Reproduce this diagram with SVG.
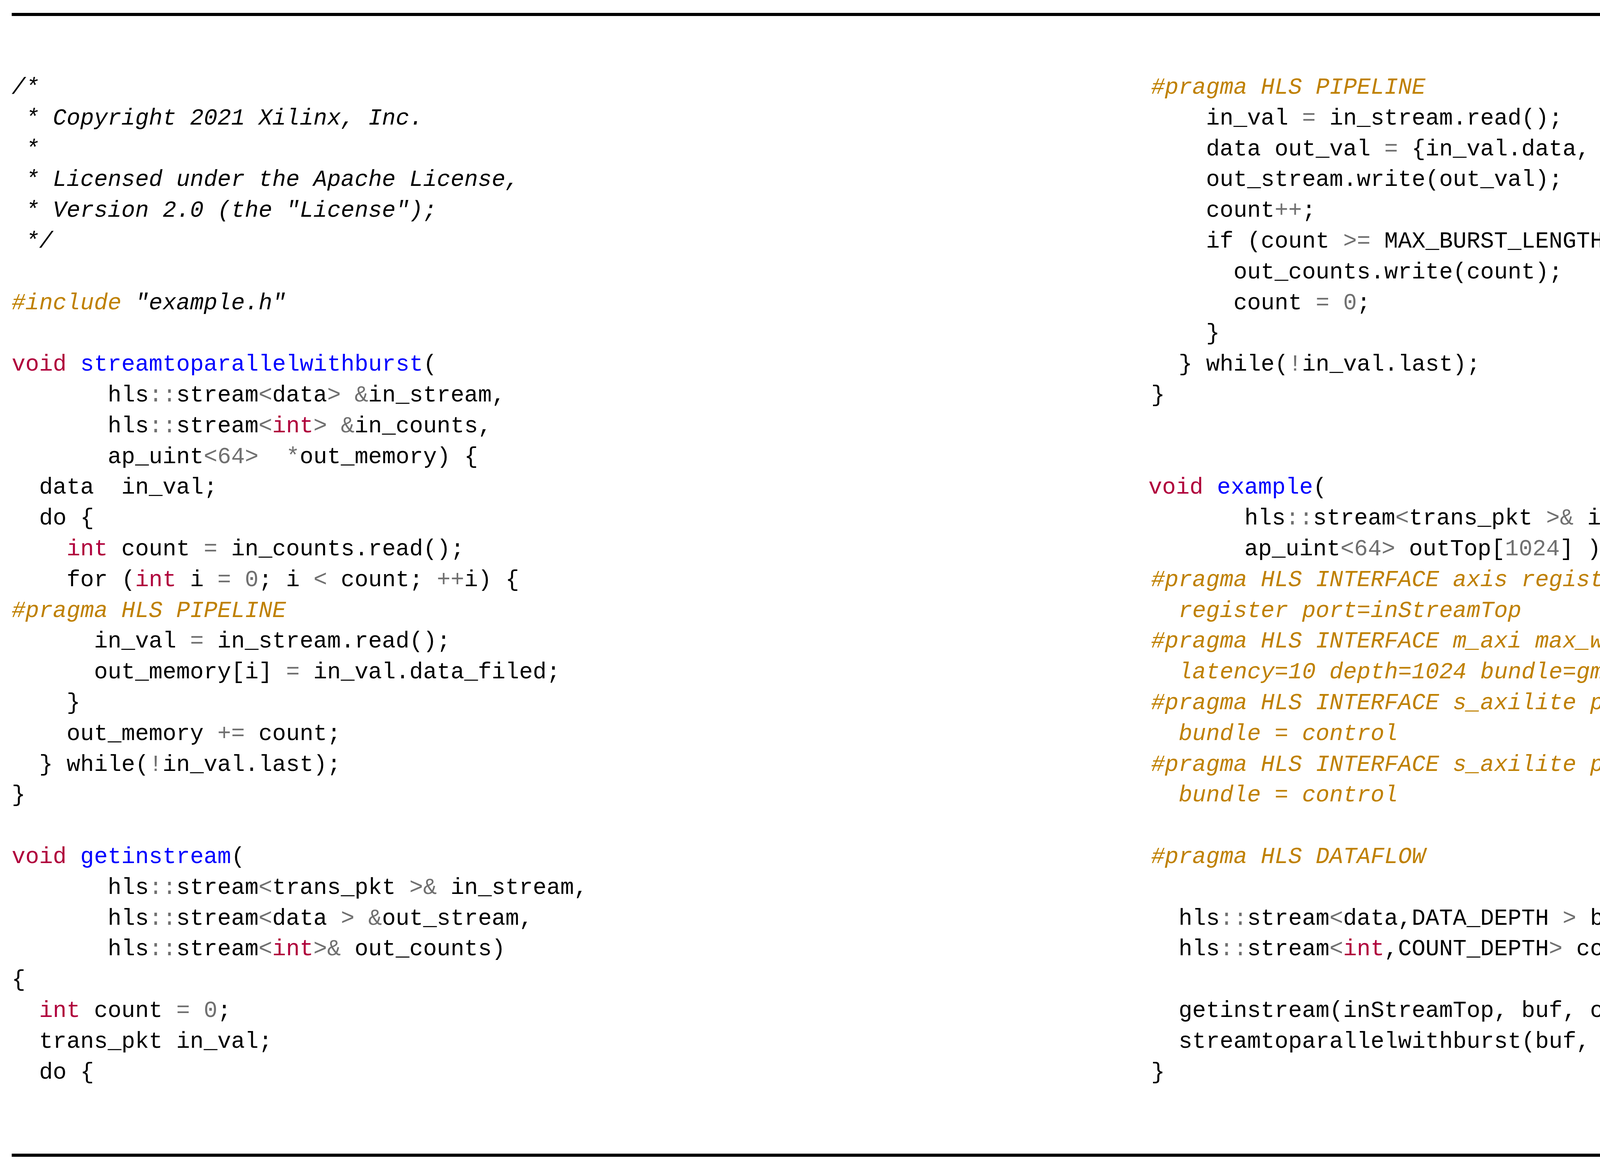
<svg xmlns="http://www.w3.org/2000/svg" width="5797" height="3001" viewBox="0 0 5797 3001">
<style>
text{font-family:"Liberation Mono","DejaVu Sans Mono",monospace;font-size:58.5px;fill:#000;white-space:pre}
.k{fill:#b0003c}.f{fill:#0000ff}.o{fill:#707070}.p{fill:#bf8000;font-style:italic}.c{font-style:italic}
</style>
<rect x="0" y="0" width="5797" height="3001" fill="#fff"/>
<g id="rules">
<rect x="30" y="33" width="5738" height="8" fill="#000"/>
<rect x="30" y="2954" width="5738" height="8" fill="#000"/>
</g>
<g id="left-code" xml:space="preserve">
<text x="30" y="240" class="c">/*</text>
<text x="30" y="319" class="c"> * Copyright 2021 Xilinx, Inc.</text>
<text x="30" y="398" class="c"> *</text>
<text x="30" y="476" class="c"> * Licensed under the Apache License,</text>
<text x="30" y="555" class="c"> * Version 2.0 (the "License");</text>
<text x="30" y="634" class="c"> */</text>
<text x="30" y="792"><tspan class="p">#include</tspan> <tspan class="c">"example.h"</tspan></text>
<text x="30" y="949"><tspan class="k">void</tspan> <tspan class="f">streamtoparallelwithburst</tspan>(</text>
<text x="30" y="1028">       hls<tspan class="o">::</tspan>stream<tspan class="o">&lt;</tspan>data<tspan class="o">&gt;</tspan> <tspan class="o">&amp;</tspan>in_stream,</text>
<text x="30" y="1107">       hls<tspan class="o">::</tspan>stream<tspan class="o">&lt;</tspan><tspan class="k">int</tspan><tspan class="o">&gt;</tspan> <tspan class="o">&amp;</tspan>in_counts,</text>
<text x="30" y="1186">       ap_uint<tspan class="o">&lt;64&gt;</tspan>  <tspan class="o">*</tspan>out_memory) {</text>
<text x="30" y="1264">  data  in_val;</text>
<text x="30" y="1343">  do {</text>
<text x="30" y="1422">    <tspan class="k">int</tspan> count <tspan class="o">=</tspan> in_counts.read();</text>
<text x="30" y="1501">    for (<tspan class="k">int</tspan> i <tspan class="o">=</tspan> <tspan class="o">0</tspan>; i <tspan class="o">&lt;</tspan> count; <tspan class="o">++</tspan>i) {</text>
<text x="30" y="1580" class="p">#pragma HLS PIPELINE</text>
<text x="30" y="1658">      in_val <tspan class="o">=</tspan> in_stream.read();</text>
<text x="30" y="1737">      out_memory[i] <tspan class="o">=</tspan> in_val.data_filed;</text>
<text x="30" y="1816">    }</text>
<text x="30" y="1895">    out_memory <tspan class="o">+=</tspan> count;</text>
<text x="30" y="1974">  } while(<tspan class="o">!</tspan>in_val.last);</text>
<text x="30" y="2052">}</text>
<text x="30" y="2210"><tspan class="k">void</tspan> <tspan class="f">getinstream</tspan>(</text>
<text x="30" y="2289">       hls<tspan class="o">::</tspan>stream<tspan class="o">&lt;</tspan>trans_pkt <tspan class="o">&gt;&amp;</tspan> in_stream,</text>
<text x="30" y="2368">       hls<tspan class="o">::</tspan>stream<tspan class="o">&lt;</tspan>data <tspan class="o">&gt;</tspan> <tspan class="o">&amp;</tspan>out_stream,</text>
<text x="30" y="2446">       hls<tspan class="o">::</tspan>stream<tspan class="o">&lt;</tspan><tspan class="k">int</tspan><tspan class="o">&gt;&amp;</tspan> out_counts)</text>
<text x="30" y="2525">{</text>
<text x="30" y="2604">  <tspan class="k">int</tspan> count <tspan class="o">=</tspan> <tspan class="o">0</tspan>;</text>
<text x="30" y="2683">  trans_pkt in_val;</text>
<text x="30" y="2762">  do {</text>
</g>
<g id="right-code" xml:space="preserve">
<text x="2947" y="240" class="p">#pragma HLS PIPELINE</text>
<text x="2947" y="319">    in_val <tspan class="o">=</tspan> in_stream.read();</text>
<text x="2947" y="398">    data out_val <tspan class="o">=</tspan> {in_val.data, in_val.last};</text>
<text x="2947" y="476">    out_stream.write(out_val);</text>
<text x="2947" y="555">    count<tspan class="o">++</tspan>;</text>
<text x="2947" y="634">    if (count <tspan class="o">&gt;=</tspan> MAX_BURST_LENGTH <tspan class="o">||</tspan> in_val.last) {</text>
<text x="2947" y="713">      out_counts.write(count);</text>
<text x="2947" y="792">      count <tspan class="o">=</tspan> <tspan class="o">0</tspan>;</text>
<text x="2947" y="870">    }</text>
<text x="2947" y="949">  } while(<tspan class="o">!</tspan>in_val.last);</text>
<text x="2947" y="1028">}</text>
<text x="2940" y="1264"><tspan class="k">void</tspan> <tspan class="f">example</tspan>(</text>
<text x="2940" y="1343">       hls<tspan class="o">::</tspan>stream<tspan class="o">&lt;</tspan>trans_pkt <tspan class="o">&gt;&amp;</tspan> inStreamTop,</text>
<text x="2940" y="1422">       ap_uint<tspan class="o">&lt;64&gt;</tspan> outTop[<tspan class="o">1024</tspan>] ) {</text>
<text x="2947" y="1501" class="p">#pragma HLS INTERFACE axis register_mode=both \</text>
<text x="2947" y="1580" class="p">  register port=inStreamTop</text>
<text x="2947" y="1658" class="p">#pragma HLS INTERFACE m_axi max_write_burst_length=256 \</text>
<text x="2947" y="1737" class="p">  latency=10 depth=1024 bundle=gmem0 port=outTop</text>
<text x="2947" y="1816" class="p">#pragma HLS INTERFACE s_axilite port = outTop \</text>
<text x="2947" y="1895" class="p">  bundle = control</text>
<text x="2947" y="1974" class="p">#pragma HLS INTERFACE s_axilite port = return \</text>
<text x="2947" y="2052" class="p">  bundle = control</text>
<text x="2947" y="2210" class="p">#pragma HLS DATAFLOW</text>
<text x="2947" y="2368">  hls<tspan class="o">::</tspan>stream<tspan class="o">&lt;</tspan>data,DATA_DEPTH <tspan class="o">&gt;</tspan> buf;</text>
<text x="2947" y="2446">  hls<tspan class="o">::</tspan>stream<tspan class="o">&lt;</tspan><tspan class="k">int</tspan>,COUNT_DEPTH<tspan class="o">&gt;</tspan> count;</text>
<text x="2947" y="2604">  getinstream(inStreamTop, buf, count);</text>
<text x="2947" y="2683">  streamtoparallelwithburst(buf, count, outTop);</text>
<text x="2947" y="2762">}</text>
</g>
</svg>
